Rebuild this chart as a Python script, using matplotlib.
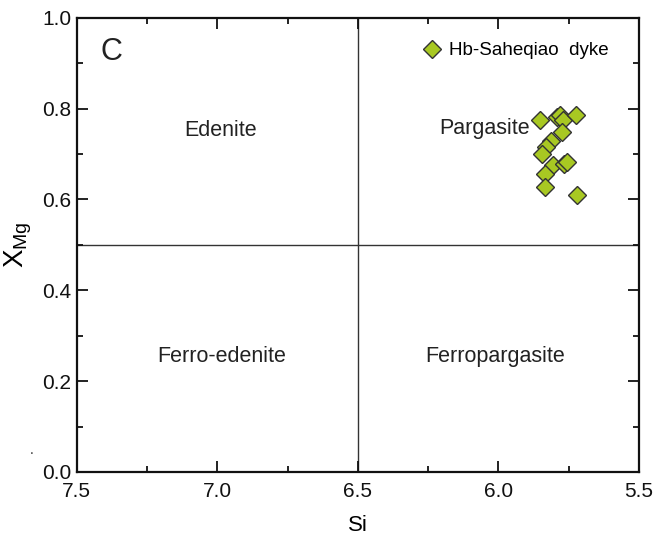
import numpy as np
import matplotlib
matplotlib.use("Agg")
from matplotlib import pyplot as plt

plt.rcParams['font.family'] = ['Liberation Sans', 'DejaVu Sans']
plt.rcParams['mathtext.fontset'] = 'custom'
plt.rcParams['mathtext.rm'] = 'Liberation Sans'
plt.rcParams['mathtext.it'] = 'Liberation Sans'

# Hb-Saheqiao dyke amphiboles
si = [5.852, 5.791, 5.779, 5.769, 5.722, 5.772, 5.811, 5.831, 5.843,
      5.807, 5.767, 5.757, 5.835, 5.835, 5.720]
xmg = [0.774, 0.782, 0.786, 0.774, 0.786, 0.749, 0.729, 0.716, 0.701,
       0.677, 0.679, 0.683, 0.655, 0.628, 0.609]

fields = ['Edenite', 'Pargasite', 'Ferro-edenite', 'Ferropargasite']
field_x = [6.99, 6.05, 6.985, 6.01]
field_y = [0.752, 0.757, 0.254, 0.254]

fig = plt.figure(figsize=(6.62, 5.4), dpi=100)
ax = fig.add_axes([0.116, 0.126, 0.849, 0.841])

ax.axvline(6.5, color='#333333', lw=1.0, zorder=1)
ax.axhline(0.5, color='#333333', lw=1.0, zorder=1)

ax.plot(si, xmg, 'D', ms=8.8, mfc='#a8c822', mec='#333333', mew=1.0,
        ls='none', label='Hb-Saheqiao  dyke', zorder=3)

for name, fx, fy in zip(fields, field_x, field_y):
    ax.text(fx, fy, name, ha='center', va='center', fontsize=15.5, color='#222222')

ax.text(7.375, 0.925, 'C', ha='center', va='center', fontsize=22, color='#222222')

ax.set_xlim(7.5, 5.5)
ax.set_ylim(0, 1.0)
ax.set_xticks([7.5, 7.0, 6.5, 6.0, 5.5])
ax.set_xticks([7.25, 6.75, 6.25, 5.75], minor=True)
ax.set_yticks([0.0, 0.2, 0.4, 0.6, 0.8, 1.0])
ax.set_yticks([0.1, 0.3, 0.5, 0.7, 0.9], minor=True)
ax.set_xticklabels(['7.5', '7.0', '6.5', '6.0', '5.5'])
ax.set_yticklabels(['0.0', '0.2', '0.4', '0.6', '0.8', '1.0'])
ax.tick_params(which='both', direction='in', top=True, right=True,
               labelsize=15, width=1.3, colors='#111111')
ax.tick_params(which='major', length=8, pad=4)
ax.tick_params(axis='x', which='major', pad=7)
ax.tick_params(which='minor', length=4)
for s in ax.spines.values():
    s.set_linewidth(1.6)
    s.set_color('#111111')

ax.set_xlabel('Si', fontsize=16, labelpad=10)
ax.set_ylabel(r'$X_{\mathrm{Mg}}$', fontsize=20, labelpad=6)

ax.legend(loc='upper right', bbox_to_anchor=(0.969, 0.975), frameon=False,
          fontsize=13.5, handlelength=1.0, handletextpad=0.4, borderaxespad=0.3)

fig.text(0.045, 0.16, '.', fontsize=10, color='#333333')

fig.savefig('out.png', dpi=100)
